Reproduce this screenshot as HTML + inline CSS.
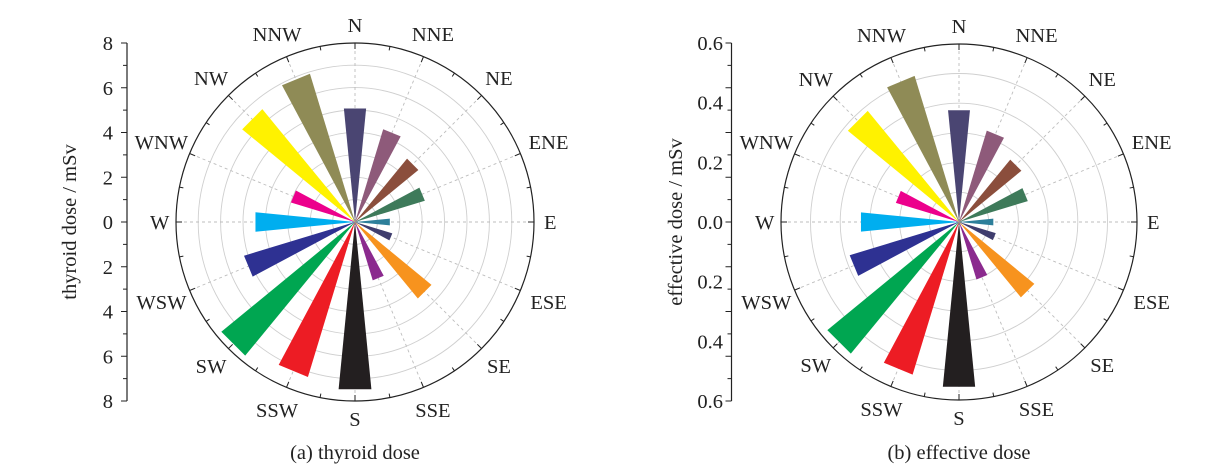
<!DOCTYPE html>
<html><head><meta charset="utf-8"><style>
html,body{margin:0;padding:0;background:#fff;}
svg{display:block;font-family:"Liberation Serif",serif;}
</style></head><body>
<svg id="s" width="1210" height="469" viewBox="0 0 1210 469" xmlns="http://www.w3.org/2000/svg"></svg>
<script>
const NS="http://www.w3.org/2000/svg";
const S=document.getElementById('s');
const FS=20.5;
function el(t,a,txt){const e=document.createElementNS(NS,t);for(const k in a)e.setAttribute(k,a[k]);if(txt!==undefined)e.textContent=txt;S.appendChild(e);return e;}
const dirs=["N","NNE","NE","ENE","E","ESE","SE","SSE","S","SSW","SW","WSW","W","WNW","NW","NNW"];
const cols=["#4a4572","#8e5a7a","#8b4e3c","#3e7a5a","#2d7f9a","#3f3d6e","#f7931e","#8b2a8e","#231f20","#ed1c24","#00a651","#2e3192","#00aeef","#ec008c","#fff200","#8f8b56"];
const vals=[114,97,82,73,35,39,99,61,168,162,173,116,100,67,146,155];
function rose(cx,cy,R,ringStep,nr,scale){
  for(let i=1;i<=nr;i++) el('circle',{cx,cy,r:i*ringStep,fill:'none',stroke:'#cfcfcf','stroke-width':0.9});
  for(let i=0;i<16;i++){const a=i*22.5*Math.PI/180;
    el('line',{x1:cx,y1:cy,x2:cx+R*Math.sin(a),y2:cy-R*Math.cos(a),stroke:'#bdbdbd','stroke-width':0.9,'stroke-dasharray':'3,3'});}
  for(let i=0;i<16;i++){const a=i*22.5*Math.PI/180,h=5.6*Math.PI/180,r=vals[i]*scale;
    const p=[[cx,cy],[cx+r*Math.sin(a-h),cy-r*Math.cos(a-h)],[cx+r*Math.sin(a+h),cy-r*Math.cos(a+h)]];
    el('polygon',{points:p.map(q=>q.join(',')).join(' '),fill:cols[i]});}
  el('circle',{cx,cy,r:R,fill:'none',stroke:'#222','stroke-width':1.2});
  for(let i=0;i<32;i++){const a=i*11.25*Math.PI/180,L=i%2?4:6;
    el('line',{x1:cx+R*Math.sin(a),y1:cy-R*Math.cos(a),x2:cx+(R-L)*Math.sin(a),y2:cy-(R-L)*Math.cos(a),stroke:'#222','stroke-width':1});}
  for(let i=0;i<16;i++){const a=i*22.5*Math.PI/180,w=dirs[i].length*14;
    const r=R+10+0.45*w*Math.abs(Math.sin(a))+8*Math.abs(Math.cos(a));
    el('text',{x:cx+r*Math.sin(a),y:cy-r*Math.cos(a)+7,'text-anchor':'middle','font-size':FS,fill:'#222'},dirs[i]);}
}
function axis(x,top,bot,labels,lx,title,tx){
  el('line',{x1:x,y1:top,x2:x,y2:bot,stroke:'#222','stroke-width':1.2});
  const n=16;for(let i=0;i<=n;i++){const y=top+(bot-top)*i/n;
    el('line',{x1:x,y1:y,x2:x-(i%2?4:6),y2:y,stroke:'#222','stroke-width':1});}
  for(let i=0;i<labels.length;i++){const y=top+(bot-top)*i/(labels.length-1);
    el('text',{x:lx,y:y+7,'text-anchor':'end','font-size':FS,fill:'#222'},labels[i]);}
  el('text',{x:tx,y:222,'text-anchor':'middle','font-size':FS,fill:'#222',transform:`rotate(-90 ${tx} 222)`},title);
}
rose(355,222,179,22.4,7,1);
axis(127,43,401,["8","6","4","2","0","2","4","6","8"],113,"thyroid dose / mSv",76);
el('text',{x:355,y:459,'text-anchor':'middle','font-size':FS,fill:'#222'},"(a) thyroid dose");
rose(959,222,178,29.7,5,0.985);
axis(731.5,43,401,["0.6","0.4","0.2","0.0","0.2","0.4","0.6"],723,"effective dose / mSv",682);
el('text',{x:959,y:459,'text-anchor':'middle','font-size':FS,fill:'#222'},"(b) effective dose");
</script>
</body></html>
